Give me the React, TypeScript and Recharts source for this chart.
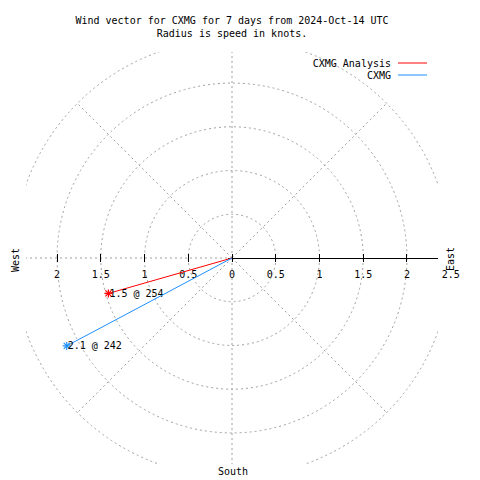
import React from "react";
import * as Recharts from "recharts";

const { ScatterChart, Scatter, XAxis, YAxis } = Recharts;

// wind vectors (speed in knots, bearing in degrees)
const SERIES_NAMES = ["CXMG Analysis", "CXMG"];
const SERIES_COLORS = ["#ff0000", "#1e8fff"];
const SPEEDS = [1.47, 2.14];
const DIRECTIONS = [254, 242];

// polar grid
const RINGS = [0.5, 1, 1.5, 2, 2.5];
const SPOKES = [0, 45, 135, 180, 225, 270, 315];
const AXIS_TICKS = [-2, -1.5, -1, -0.5, 0, 0.5, 1, 1.5, 2, 2.5];
const LIMIT = 2.355;
const DOMAIN: [number, number] = [-LIMIT, LIMIT];

const TITLE = ["Wind vector for CXMG for 7 days from 2024-Oct-14 UTC", "Radius is speed in knots."];

const FONT = "'DejaVu Sans Mono', 'Liberation Mono', monospace";
const GRID = "#a0a0a0";

const rad = (d: number) => (d * Math.PI) / 180;

const seriesData = SPEEDS.map((s, i) => [
  { x: 0, y: 0, origin: true },
  { x: s * Math.sin(rad(DIRECTIONS[i])), y: s * Math.cos(rad(DIRECTIONS[i])), speed: s, dir: DIRECTIONS[i] },
]);

const R: any = Recharts;
const usePlotBox: () => any =
  R.usePlotArea ??
  (() => {
    const off = R.useOffset?.();
    const w = R.useChartWidth?.();
    const h = R.useChartHeight?.();
    if (!off || w == null || h == null) return null;
    return { x: off.left, y: off.top, width: w - off.left - off.right, height: h - off.top - off.bottom };
  });

function PolarGrid() {
  const area = usePlotBox();
  if (!area) return null;
  const span = DOMAIN[1] - DOMAIN[0];
  const sx = (v: number) => area.x + ((v - DOMAIN[0]) / span) * area.width;
  const sy = (v: number) => area.y + ((DOMAIN[1] - v) / span) * area.height;
  const cx = sx(0);
  const cy = sy(0);
  const k = area.width / span;
  const outer = RINGS[RINGS.length - 1];
  return (
    <g>
      <defs>
        <clipPath id="plotClip">
          <rect x={area.x} y={area.y} width={area.width} height={area.height} />
        </clipPath>
      </defs>
      <g fontFamily={FONT} fontSize={10} fill="#000" textAnchor="middle">
        {AXIS_TICKS.map((t) => (
          <text key={t} x={sx(t)} y={cy + 16} dominantBaseline="central">
            {String(Math.abs(t))}
          </text>
        ))}
      </g>
      <g clipPath="url(#plotClip)" stroke={GRID} strokeWidth={1} strokeDasharray="2 3" fill="none">
        {RINGS.map((r) => (
          <circle key={r} cx={cx} cy={cy} r={r * k} />
        ))}
        {SPOKES.map((b) => (
          <line
            key={b}
            x1={cx}
            y1={cy}
            x2={sx(outer * Math.sin(rad(b)))}
            y2={sy(outer * Math.cos(rad(b)))}
          />
        ))}
      </g>
      <g stroke="#000" strokeWidth={1} shapeRendering="crispEdges">
        <line x1={cx - 4} y1={cy} x2={area.x + area.width} y2={cy} />
        {AXIS_TICKS.filter((t) => Math.abs(t) < LIMIT).map((t) => (
          <line key={t} x1={sx(t)} y1={cy - 4} x2={sx(t)} y2={cy + 4} />
        ))}
      </g>
    </g>
  );
}

function Labels() {
  return (
    <g fontFamily={FONT} fontSize={10}>
      {TITLE.map((t, i) => (
        <text key={t} x={232} y={20 + i * 13} textAnchor="middle" dominantBaseline="central" fill="#000">
          {t}
        </text>
      ))}
      {SERIES_NAMES.map((n, i) => (
        <g key={n}>
          <text x={391} y={63 + i * 12} textAnchor="end" dominantBaseline="central" fill="#000">
            {n}
          </text>
          <line x1={398} y1={63 + i * 12} x2={427} y2={63 + i * 12} stroke={SERIES_COLORS[i]} strokeWidth={1} />
        </g>
      ))}
      <text x={15} y={260} textAnchor="middle" dominantBaseline="central" fill="#000" transform="rotate(-90 15 260)">
        West
      </text>
      <text x={450} y={259} textAnchor="middle" dominantBaseline="central" fill="#000" transform="rotate(-90 450 259)">
        East
      </text>
      <text x={233} y={471} textAnchor="middle" dominantBaseline="central" fill="#000">
        South
      </text>
    </g>
  );
}

const makeStar = (color: string) => (props: any) => {
  const { cx, cy, payload } = props;
  if (payload.origin) return <g />;
  const s = 4;
  return (
    <g>
      <g stroke={color} strokeWidth={1.2}>
        <line x1={cx - s} y1={cy} x2={cx + s} y2={cy} />
        <line x1={cx} y1={cy - s} x2={cx} y2={cy + s} />
        <line x1={cx - 3} y1={cy - 3} x2={cx + 3} y2={cy + 3} />
        <line x1={cx - 3} y1={cy + 3} x2={cx + 3} y2={cy - 3} />
      </g>
      <text x={cx + 1} y={cy} dominantBaseline="central" fontFamily={FONT} fontSize={10} fill="#000">
        {`${payload.speed.toFixed(1)} @ ${payload.dir}`}
      </text>
    </g>
  );
};

export default function App() {
  return (
    <div style={{ position: "absolute", left: 0, top: 0, width: 480, height: 480, background: "#fff" }}>
      <ScatterChart width={480} height={480} margin={{ top: 52, left: 26, right: 42, bottom: 16 }}>
        <XAxis type="number" dataKey="x" domain={DOMAIN} allowDataOverflow hide />
        <YAxis type="number" dataKey="y" domain={DOMAIN} allowDataOverflow hide />
        <PolarGrid />
        <Labels />
        {seriesData.map((d, i) => (
          <Scatter
            key={SERIES_NAMES[i]}
            name={SERIES_NAMES[i]}
            data={d}
            line={{ stroke: SERIES_COLORS[i], strokeWidth: 1 }}
            shape={makeStar(SERIES_COLORS[i])}
            isAnimationActive={false}
          />
        ))}
      </ScatterChart>
    </div>
  );
}
